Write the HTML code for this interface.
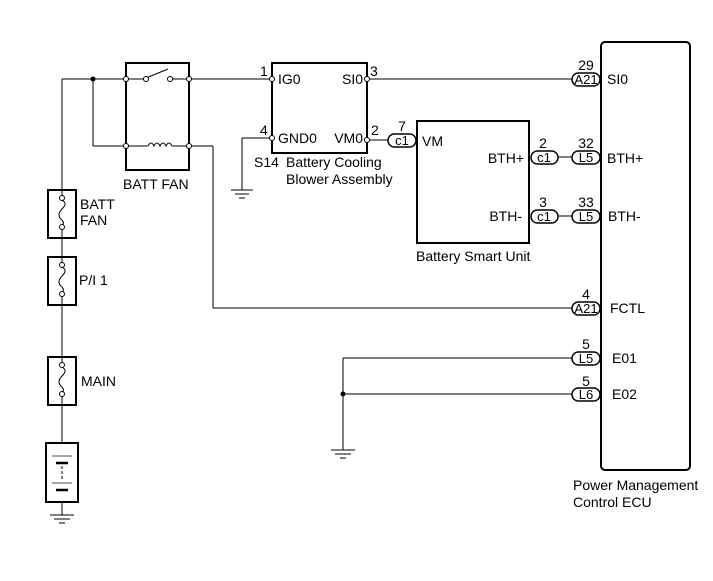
<!DOCTYPE html>
<html><head><meta charset="utf-8"><style>
html,body{margin:0;padding:0;background:#fff;}
svg{display:block;}
text{font-family:"Liberation Sans",Arial,sans-serif;font-size:14px;fill:#000;}
.o{font-size:13px;}
</style></head><body>
<svg width="713" height="581" viewBox="0 0 713 581" xmlns="http://www.w3.org/2000/svg">
<g stroke="#000" fill="none" stroke-width="1">
<line x1="62" y1="79" x2="62" y2="515"/>
<line x1="62" y1="79" x2="125" y2="79"/>
<line x1="93" y1="79" x2="93" y2="146"/>
<line x1="93" y1="146" x2="125" y2="146"/>
<rect x="126" y="63" width="63" height="107" stroke-width="2"/>
<line x1="125" y1="79" x2="145" y2="79"/>
<line x1="146" y1="78" x2="168" y2="69"/>
<line x1="170" y1="79" x2="272" y2="79"/>
<line x1="125" y1="146" x2="148" y2="146"/>
<path d="M148 146 q3 -6 6 0 q3 -6 6 0 q3 -6 6 0 q3 -6 6 0"/>
<line x1="172" y1="146" x2="213" y2="146"/>
<line x1="213" y1="146" x2="213" y2="308"/>
<line x1="213" y1="308" x2="572" y2="308"/>
<rect x="272" y="63" width="95" height="90" stroke-width="2"/>
<line x1="367" y1="79" x2="572" y2="79"/>
<line x1="272" y1="138" x2="242" y2="138"/>
<line x1="242" y1="138" x2="242" y2="190"/>
<line x1="231" y1="190" x2="253" y2="190"/>
<line x1="235" y1="194" x2="249" y2="194"/>
<line x1="239" y1="198" x2="245" y2="198"/>
<line x1="367" y1="140" x2="388" y2="140"/>
<rect x="417" y="121" width="112" height="122" stroke-width="2"/>
<line x1="558" y1="157" x2="572" y2="157"/>
<line x1="558" y1="216" x2="572" y2="216"/>
<line x1="343" y1="358" x2="572" y2="358"/>
<line x1="343" y1="394" x2="572" y2="394"/>
<line x1="343" y1="358" x2="343" y2="450"/>
<line x1="331" y1="450" x2="355" y2="450"/>
<line x1="335" y1="454" x2="351" y2="454"/>
<line x1="340" y1="458" x2="346" y2="458"/>
<rect x="601" y="42" width="89" height="428" rx="4" stroke-width="2"/>
<rect x="48" y="190" width="28" height="48" stroke-width="2" fill="#fff"/>
<rect x="48" y="257" width="28" height="48" stroke-width="2" fill="#fff"/>
<rect x="48" y="357" width="28" height="48" stroke-width="2" fill="#fff"/>
<rect x="46" y="443" width="32" height="59" stroke-width="2" fill="#fff"/>
<line x1="62" y1="430" x2="62" y2="443"/>
<line x1="62" y1="502" x2="62" y2="515"/>
<line x1="52" y1="456" x2="72" y2="456" stroke="#888" stroke-width="1.5"/>
<line x1="56" y1="463" x2="68" y2="463" stroke-width="2.5"/>
<line x1="62" y1="466" x2="62" y2="480" stroke-dasharray="3,2"/>
<line x1="52" y1="483" x2="72" y2="483" stroke="#888" stroke-width="1.5"/>
<line x1="56" y1="490" x2="68" y2="490" stroke-width="2.5"/>
<line x1="50" y1="515" x2="74" y2="515"/>
<line x1="54" y1="519" x2="70" y2="519"/>
<line x1="59" y1="523" x2="65" y2="523"/>
</g>
<g stroke="#000" fill="none" stroke-width="1">
<line x1="62" y1="190" x2="62" y2="197"/><line x1="62" y1="228" x2="62" y2="238"/>
<line x1="62" y1="257" x2="62" y2="264"/><line x1="62" y1="295" x2="62" y2="305"/>
<line x1="62" y1="357" x2="62" y2="364"/><line x1="62" y1="395" x2="62" y2="405"/>
<path d="M62 200 c5 3 3 6 0 9 c-4 4 -4 8 0 11 c2 2 2 4 0 7"/>
<path d="M62 267 c5 3 3 6 0 9 c-4 4 -4 8 0 11 c2 2 2 4 0 7"/>
<path d="M62 367 c5 3 3 6 0 9 c-4 4 -4 8 0 11 c2 2 2 4 0 7"/>
</g>
<g stroke="#000" fill="#fff" stroke-width="1">
<circle cx="62" cy="198" r="2.5"/><circle cx="62" cy="227" r="2.5"/>
<circle cx="62" cy="265" r="2.5"/><circle cx="62" cy="294" r="2.5"/>
<circle cx="62" cy="365" r="2.5"/><circle cx="62" cy="394" r="2.5"/>
<circle cx="126" cy="79" r="2.5"/><circle cx="189" cy="79" r="2.5"/>
<circle cx="126" cy="146" r="2.5"/><circle cx="189" cy="146" r="2.5"/>
<circle cx="146" cy="79" r="2.5"/><circle cx="170" cy="79" r="2.5"/>
<circle cx="272" cy="79" r="2.5"/><circle cx="367" cy="79" r="2.5"/>
<circle cx="272" cy="138" r="2.5"/><circle cx="367" cy="140" r="2.5"/>
<rect x="572" y="73" width="28" height="13" rx="6.5" stroke-width="1.5"/>
<rect x="388" y="134" width="28" height="13" rx="6.5" stroke-width="1.5"/>
<rect x="531" y="151" width="27" height="13" rx="6.5" stroke-width="1.5"/>
<rect x="572" y="151" width="28" height="13" rx="6.5" stroke-width="1.5"/>
<rect x="531" y="210" width="27" height="13" rx="6.5" stroke-width="1.5"/>
<rect x="572" y="210" width="28" height="13" rx="6.5" stroke-width="1.5"/>
<rect x="572" y="302" width="28" height="13" rx="6.5" stroke-width="1.5"/>
<rect x="572" y="352" width="28" height="13" rx="6.5" stroke-width="1.5"/>
<rect x="572" y="388" width="28" height="13" rx="6.5" stroke-width="1.5"/>
</g>
<circle cx="93" cy="79" r="2.5" fill="#000"/>
<circle cx="343" cy="394" r="2.5" fill="#000"/>
<text class="o" x="586" y="84" text-anchor="middle">A21</text>
<text class="o" x="402" y="145" text-anchor="middle">c1</text>
<text class="o" x="544" y="162" text-anchor="middle">c1</text>
<text class="o" x="586" y="162" text-anchor="middle">L5</text>
<text class="o" x="544" y="221" text-anchor="middle">c1</text>
<text class="o" x="586" y="221" text-anchor="middle">L5</text>
<text class="o" x="586" y="313" text-anchor="middle">A21</text>
<text class="o" x="586" y="363" text-anchor="middle">L5</text>
<text class="o" x="586" y="399" text-anchor="middle">L6</text>
<text x="586" y="70" text-anchor="middle">29</text>
<text x="402" y="131" text-anchor="middle">7</text>
<text x="543" y="148" text-anchor="middle">2</text>
<text x="586" y="148" text-anchor="middle">32</text>
<text x="543" y="207" text-anchor="middle">3</text>
<text x="586" y="207" text-anchor="middle">33</text>
<text x="586" y="299" text-anchor="middle">4</text>
<text x="586" y="349" text-anchor="middle">5</text>
<text x="586" y="386" text-anchor="middle">5</text>
<text x="607" y="84">SI0</text>
<text x="607" y="163">BTH+</text>
<text x="608" y="221">BTH-</text>
<text x="610" y="313">FCTL</text>
<text x="612" y="363">E01</text>
<text x="612" y="399">E02</text>
<text x="573" y="490">Power Management</text>
<text x="573" y="507">Control ECU</text>
<text x="422" y="146">VM</text>
<text x="524" y="163" text-anchor="end">BTH+</text>
<text x="522" y="221" text-anchor="end">BTH-</text>
<text x="416" y="261">Battery Smart Unit</text>
<text x="278" y="84">IG0</text>
<text x="363" y="84" text-anchor="end">SI0</text>
<text x="278" y="143">GND0</text>
<text x="363" y="143" text-anchor="end">VM0</text>
<text x="260" y="76">1</text>
<text x="370" y="76">3</text>
<text x="260" y="135">4</text>
<text x="371" y="135">2</text>
<text x="254" y="167">S14</text>
<text x="286" y="167">Battery Cooling</text>
<text x="286" y="184">Blower Assembly</text>
<text x="123" y="189">BATT FAN</text>
<text x="80" y="209">BATT</text>
<text x="80" y="225">FAN</text>
<text x="79" y="285">P/I 1</text>
<text x="81" y="386">MAIN</text>
</svg>
</body></html>
